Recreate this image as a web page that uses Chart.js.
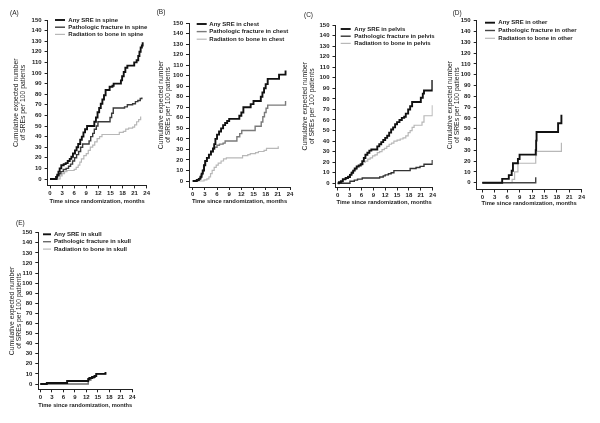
<!DOCTYPE html>
<html>
<head>
<meta charset="utf-8">
<script src="https://cdn.jsdelivr.net/npm/chart.js@4.4.1/dist/chart.umd.min.js"></script>
<style>
  body { margin: 0; background: #fff; }
  #wrap { position: relative; width: 600px; height: 423px; overflow: hidden; }
  canvas { position: absolute; }
</style>
</head>
<body>
<div id="wrap"></div>
<script>
// tick labels
const monthTicks = [0, 3, 6, 9, 12, 15, 18, 21, 24];
const sreTicks = [0, 10, 20, 30, 40, 50, 60, 70, 80, 90, 100, 110, 120, 130, 140, 150];

// [month, cumulative SREs per 100 patients]
// (A) spine
const spineAny = [[0,0],[1.3,0],[1.5,2],[1.8,4],[2.1,7],[2.4,10],[2.8,13],[3.4,14],[3.9,15],[4.4,17],[4.9,19],[5.3,21],[5.7,24],[6.2,27],[6.6,30],[7.0,33],[7.5,37],[7.9,40],[8.3,44],[8.7,47],[9.2,50],[10.8,50],[11.0,54],[11.4,58],[11.8,63],[12.2,67],[12.6,71],[13.0,75],[13.4,79],[13.8,84],[14.5,84],[14.8,87],[15.5,88],[15.8,90],[17.3,90],[17.6,93],[17.9,97],[18.3,101],[18.7,105],[19.2,107],[20.5,107],[20.9,110],[21.5,112],[21.9,116],[22.2,120],[22.5,124],[22.8,126],[23.0,129]];
const spineFracture = [[0,0],[1.5,0],[1.8,3],[2.2,5],[2.7,7],[3.3,9],[4.0,10],[4.6,12],[5.1,14],[5.6,17],[6.1,20],[6.6,23],[7.1,26],[7.6,30],[8.1,33],[9.3,33],[9.7,36],[10.1,40],[10.6,43],[11.0,47],[11.5,50],[11.9,54],[14.5,54],[14.9,58],[15.3,62],[15.7,67],[17.9,67],[18.5,68],[19.2,70],[20.5,71],[21.2,73],[21.8,74],[22.4,76],[22.8,77]];
const spineRadiation = [[0,0],[2.0,0],[2.5,3],[3.0,5],[3.6,7],[4.2,8],[5.5,8],[6.0,9],[6.5,11],[7.0,13],[7.4,16],[7.8,19],[8.4,22],[9.0,24],[9.5,27],[10.0,30],[10.6,32],[11.1,35],[11.7,38],[12.3,40],[12.9,42],[16.7,42],[17.2,44],[18.2,45],[18.8,47],[19.5,48],[20.5,49],[21.0,51],[21.5,54],[22.0,56],[22.5,59]];

// (B) chest
const chestAny = [[0,0],[0.8,0],[1.0,1],[1.5,2],[1.9,4],[2.2,7],[2.5,10],[2.8,15],[3.1,19],[3.5,22],[4.0,25],[4.5,28],[5.0,31],[5.3,35],[5.6,40],[6.0,44],[6.5,47],[7.0,50],[7.5,53],[8.0,55],[8.5,57],[9.0,59],[11.0,59],[11.5,62],[12.0,65],[12.5,70],[14.0,70],[14.3,73],[15.0,76],[16.5,76],[16.8,80],[17.2,84],[17.6,88],[18.0,92],[18.5,97],[21.0,97],[21.3,101],[22.8,101],[22.9,105]];
const chestFracture = [[0,0],[0.9,0],[1.2,1],[1.7,3],[2.1,6],[2.4,10],[2.7,15],[3.0,19],[3.5,22],[4.0,25],[4.5,28],[5.0,30],[5.4,32],[6.0,34],[6.6,35],[7.5,36],[8.0,38],[10.4,38],[10.9,42],[11.6,45],[12.1,48],[15.0,48],[15.4,52],[16.5,52],[16.9,56],[17.3,61],[17.7,65],[18.1,69],[18.5,72],[22.8,72],[22.9,76]];
const chestRadiation = [[0,0],[2.4,0],[2.8,1],[3.5,2],[4.0,4],[4.4,7],[4.8,10],[5.3,13],[5.8,15],[6.3,17],[7.0,19],[7.6,21],[8.3,22],[11.8,22],[12.3,24],[13.6,25],[14.2,26],[15.5,27],[16.2,28],[17.6,29],[18.2,31],[21.0,31],[21.1,33]];

// (C) pelvis
const pelvisAny = [[0,0],[0.3,1],[0.8,2],[1.3,4],[2.0,5],[2.6,6],[3.1,8],[3.5,10],[3.9,12],[4.3,14],[4.8,16],[5.3,17],[5.8,18],[6.2,21],[6.6,24],[7.0,27],[7.5,29],[8.0,31],[8.5,32],[9.7,32],[10.0,35],[10.5,37],[11.0,39],[11.5,41],[12.0,43],[12.5,45],[13.0,48],[13.5,51],[14.0,53],[14.5,56],[15.0,58],[15.6,60],[16.2,62],[16.8,63],[17.2,66],[17.8,70],[18.3,73],[18.8,77],[20.6,77],[21.0,81],[21.5,85],[21.8,88],[23.8,88],[23.9,98]];
const pelvisFracture = [[0,0],[2.8,0],[3.1,2],[4.2,3],[5.0,4],[6.2,5],[10.0,5],[10.6,6],[11.5,7],[12.0,8],[12.8,9],[13.5,10],[14.2,12],[17.8,12],[18.3,14],[19.8,15],[20.8,16],[21.8,18],[23.8,18],[23.9,22]];
const pelvisRadiation = [[0,0],[0.5,1],[1.2,3],[2.0,5],[2.6,7],[3.2,9],[3.6,11],[4.1,13],[4.7,15],[5.4,16],[5.9,18],[6.5,20],[7.0,21],[7.6,23],[8.2,24],[8.8,26],[9.4,27],[10.0,29],[10.6,30],[11.2,32],[11.8,33],[12.4,35],[13.0,37],[13.6,38],[14.2,40],[15.0,41],[15.8,42],[16.5,43],[17.2,45],[17.8,48],[18.3,50],[18.8,53],[19.3,55],[21.0,55],[21.3,58],[21.8,64],[23.8,64],[23.9,74]];

// (D) other
const otherAny = [[0,0],[4.8,3.5],[6.4,7],[7.1,11],[7.4,18],[8.6,22],[9.0,26],[12.9,30],[13.0,39],[13.1,47],[18.3,55],[19.1,63]];
const otherFracture = [[0,0],[12.9,5]];
const otherRadiation = [[0,0],[7.2,3],[7.8,10],[8.6,18],[12.9,25],[13.1,29],[19.1,37]];

// (E) skull
const skullAny = [[0,0],[1.7,1],[7.0,3],[12.5,5],[12.8,6],[13.5,7],[14.2,8],[14.6,10],[17.0,12]];
const skullFracture = [[0,0],[12.5,4],[13.2,6],[14.0,8],[14.6,10],[17.0,11]];
const skullRadiation = [[0,0],[1.7,1],[7.0,3],[12.5,3]];

Chart.defaults.font.family = '"Liberation Sans", Arial, sans-serif';
Chart.defaults.color = '#222';

const FONT = '"Liberation Sans", Arial, sans-serif';

// draws the panel tag and the small legend inside the plot
const panelDecor = {
  id: 'panelDecor',
  afterDraw(chart, args, o) {
    const ctx = chart.ctx;
    ctx.save();
    ctx.textBaseline = 'middle';
    ctx.fillStyle = '#222';
    ctx.font = '6.5px ' + FONT;
    ctx.fillText(o.tag, o.tagX, o.tagY);
    ctx.font = 'bold 6px ' + FONT;
    chart.data.datasets.forEach((ds, i) => {
      const y = o.legY + i * o.legDy;
      ctx.strokeStyle = ds.borderColor;
      ctx.lineWidth = ds.borderWidth;
      ctx.beginPath();
      ctx.moveTo(o.legX, y);
      ctx.lineTo(o.legX + o.legLen, y);
      ctx.stroke();
      ctx.fillText(ds.label, o.legTextX, y);
    });
    ctx.restore();
  }
};

function makePanel(p) {
  const canvas = document.createElement('canvas');
  canvas.width = p.cw;
  canvas.height = p.ch;
  canvas.style.left = p.cx + 'px';
  canvas.style.top = p.cy + 'px';
  canvas.style.width = p.cw + 'px';
  canvas.style.height = p.ch + 'px';
  document.getElementById('wrap').appendChild(canvas);

  const L = p.left - p.cx, R = p.x24 - p.cx, T = p.top - p.cy, B = p.bottom - p.cy;
  const ppm = (p.x24 - p.x0) / 24;
  const ppu = (p.zero - p.top) / 150;
  const names = ['Any SRE in ', 'Pathologic fracture in ', 'Radiation to bone in '];
  const colors = ['#111', p.fracColor, '#b8b8b8'];
  const widths = [1.9, 1.4, 1.2];

  return new Chart(canvas, {
    type: 'line',
    data: {
      datasets: p.series.map((s, i) => ({
        label: names[i] + p.site,
        data: s,
        borderColor: colors[i],
        borderWidth: widths[i],
        stepped: true,
        pointRadius: 0,
        fill: false
      }))
    },
    options: {
      responsive: false,
      animation: false,
      devicePixelRatio: 1,
      layout: { padding: { left: 0, top: T, right: p.cw - R, bottom: 0 } },
      plugins: {
        legend: { display: false },
        tooltip: { enabled: false },
        panelDecor: p.decor
      },
      scales: {
        x: {
          type: 'linear',
          min: -(p.x0 - p.left) / ppm,
          max: 24,
          afterBuildTicks: s => { s.ticks = monthTicks.map(v => ({ value: v })); },
          afterFit: s => { s.height = p.ch - B; },
          grid: { drawOnChartArea: false, drawTicks: true, tickLength: 3, color: '#222' },
          border: { display: true, color: '#222', width: 1 },
          ticks: { font: { size: 6, weight: 'bold' }, padding: 1, maxRotation: 0, color: '#222' },
          title: {
            display: true,
            text: 'Time since randomization, months',
            font: { size: 5.8, weight: 'bold' },
            padding: 0,
            color: '#222'
          }
        },
        y: {
          type: 'linear',
          min: -(p.bottom - p.zero) / ppu,
          max: 150,
          afterBuildTicks: s => { s.ticks = sreTicks.map(v => ({ value: v })); },
          afterFit: s => { s.width = L; },
          grid: { drawOnChartArea: false, drawTicks: true, tickLength: 3, color: '#222' },
          border: { display: true, color: '#222', width: 1 },
          ticks: { font: { size: 6, weight: 'bold' }, padding: 3, color: '#222' },
          title: {
            display: true,
            text: ['Cumulative expected number', 'of SREs per 100 patients'],
            font: { size: 6.8, lineHeight: '7.2px' },
            padding: { top: p.yTitleX - p.cx - 3.6, bottom: 0 },
            color: '#222'
          }
        }
      }
    },
    plugins: [panelDecor]
  });
}

const panels = [
  { site: 'spine', series: [spineAny, spineFracture, spineRadiation], fracColor: '#3a3a3a',
    cx: 0, cy: 0, cw: 155, ch: 205, left: 47.6, x0: 50, x24: 146.7, top: 20, zero: 179, bottom: 185.4, yTitleX: 16,
    decor: { tag: '(A)', tagX: 10, tagY: 13, legX: 55, legLen: 10, legTextX: 68.3, legY: 20, legDy: 7.2 } },
  { site: 'chest', series: [chestAny, chestFracture, chestRadiation], fracColor: '#7a7a7a',
    cx: 150, cy: 0, cw: 150, ch: 205, left: 189, x0: 192.7, x24: 290, top: 23, zero: 181, bottom: 187, yTitleX: 160.7,
    decor: { tag: '(B)', tagX: 6.7, tagY: 12.7, legX: 46.7, legLen: 10, legTextX: 59.3, legY: 24, legDy: 7.6 } },
  { site: 'pelvis', series: [pelvisAny, pelvisFracture, pelvisRadiation], fracColor: '#333',
    cx: 295, cy: 0, cw: 145, ch: 206, left: 335.5, x0: 337.7, x24: 432.7, top: 25, zero: 183.3, bottom: 187.5, yTitleX: 305,
    decor: { tag: '(C)', tagX: 9, tagY: 15, legX: 45.7, legLen: 10, legTextX: 59.3, legY: 29, legDy: 7.2 } },
  { site: 'other', series: [otherAny, otherFracture, otherRadiation], fracColor: '#444',
    cx: 440, cy: 0, cw: 160, ch: 207, left: 476.7, x0: 482.3, x24: 581.7, top: 20.7, zero: 182.7, bottom: 189.5, yTitleX: 450,
    decor: { tag: '(D)', tagX: 12.7, tagY: 13.3, legX: 45, legLen: 10, legTextX: 58.3, legY: 22.7, legDy: 7.8 } },
  { site: 'skull', series: [skullAny, skullFracture, skullRadiation], fracColor: '#6a6a6a',
    cx: 0, cy: 200, cw: 150, ch: 209, left: 38.3, x0: 40.3, x24: 132.3, top: 232.7, zero: 384, bottom: 389.3, yTitleX: 11.7,
    decor: { tag: '(E)', tagX: 16, tagY: 23.3, legX: 43, legLen: 8, legTextX: 54, legY: 34.3, legDy: 7.4 } }
];

panels.forEach(makePanel);
</script>
</body>
</html>
